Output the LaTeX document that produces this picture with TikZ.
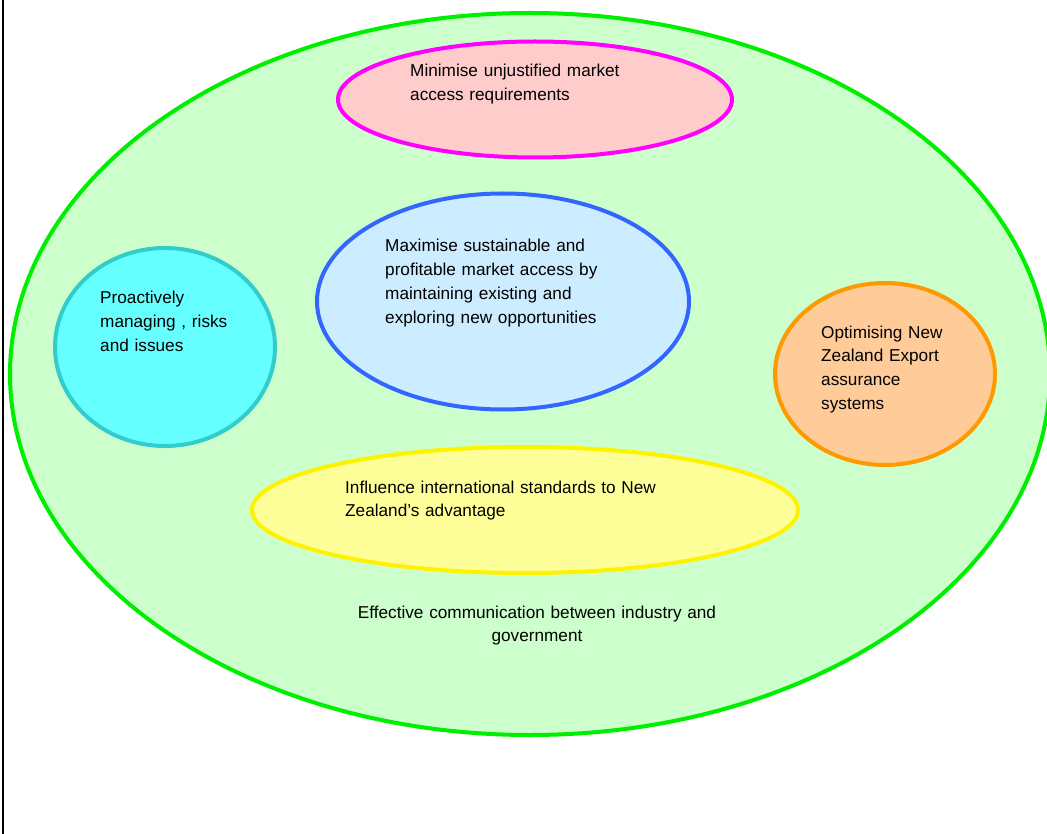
\documentclass[tikz,border=0pt]{standalone}
\usepackage{fontspec}
\setmainfont{Liberation Sans}
\usepackage{xcolor}
\usepackage{tikz}

\definecolor{outerfill}{HTML}{CCFFCC}
\definecolor{outerline}{HTML}{00EE00}
\definecolor{pinkfill}{HTML}{FFCCCC}
\definecolor{pinkline}{HTML}{FF00FF}
\definecolor{bluefill}{HTML}{CCECFF}
\definecolor{blueline}{HTML}{3366FF}
\definecolor{cyanfill}{HTML}{66FFFF}
\definecolor{cyanline}{HTML}{33CCCC}
\definecolor{orangefill}{HTML}{FFCC99}
\definecolor{orangeline}{HTML}{FF9900}
\definecolor{yellowfill}{HTML}{FFFF99}
\definecolor{yellowline}{HTML}{FFF200}

\begin{document}
\begin{tikzpicture}[x=1pt, y=-1pt,
  goal/.style={line width=4pt},
  goaltext/.style={anchor=base west, inner sep=0pt, text width=360pt, align=left,
    font=\fontsize{17.2}{23.8}\selectfont}]

\useasboundingbox (0,0) rectangle (1047,834);
\clip (0,0) rectangle (1047,834);

\fill[white] (0,0) rectangle (1047,834);
\draw[line width=2.5pt] (3,0)--(3,834);

% outer field
\filldraw[goal, fill=outerfill, draw=outerline] (530,374) ellipse (520 and 361);

% goals
\filldraw[goal, fill=pinkfill, draw=pinkline] (535,99.5) ellipse (197 and 58);
\filldraw[goal, fill=bluefill, draw=blueline] (503,301.5) ellipse (186 and 108);
\filldraw[goal, fill=cyanfill, draw=cyanline] (165,347) ellipse (110 and 99);
\filldraw[goal, fill=orangefill, draw=orangeline] (885,374) ellipse (110 and 91);
\filldraw[goal, fill=yellowfill, draw=yellowline] (525,510) ellipse (273 and 63);

\node[goaltext] (access) at (410,77) {Minimise unjustified market\\access requirements};
\node[goaltext] (maximise) at (385,252) {Maximise sustainable and\\profitable market access by\\maintaining existing and\\exploring new opportunities};
\node[goaltext] (risks) at (100,304) {Proactively\\managing , risks\\and issues};
\node[goaltext] (export) at (821,338) {Optimising New\\Zealand Export\\assurance\\systems};
\node[goaltext] (standards) at (345,493) {Influence international standards to New\\Zealand’s advantage};
\node[goaltext, anchor=base, align=center, text width=420pt] (comms) at (537,618)
  {Effective communication between industry and\\government};

\end{tikzpicture}
\end{document}
